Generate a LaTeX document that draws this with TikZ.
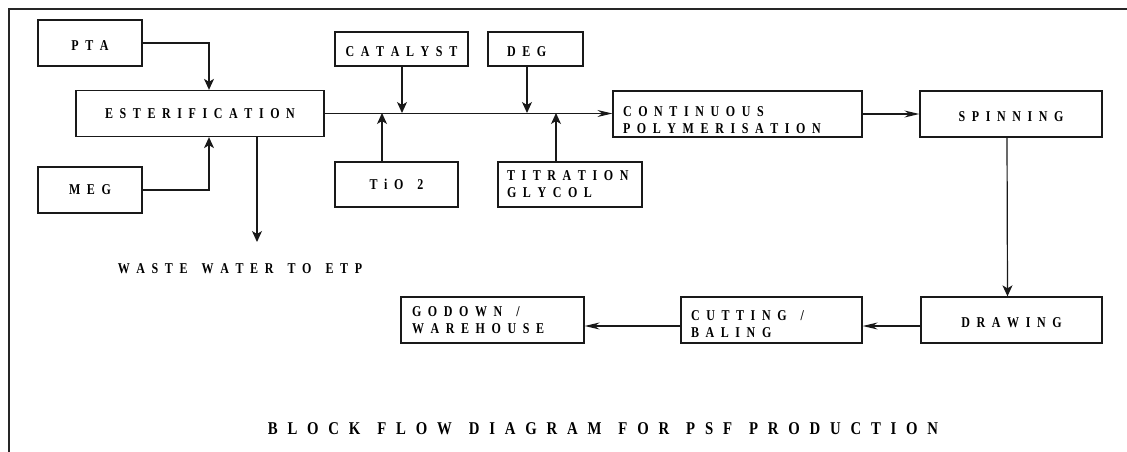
\documentclass[tikz,border=0pt]{standalone}
\usepackage{fontspec}
\setmainfont{Liberation Serif}
% bold, slightly condensed serif for all labels
\newfontfamily\blockfont{Liberation Serif}[UprightFont={* Bold},FakeStretch=0.8]
\newfontfamily\titlefont{Liberation Serif}[UprightFont={* Bold},FakeStretch=0.82]
\usetikzlibrary{arrows.meta}

% hand-made tracking: a kern after every letter, ~ marks a word gap
\newlength\trkd
\newlength\trkw
\def\trk#1{\trkA#1\relax}
\def\trkA#1{\ifx\relax#1\unkern\else\ifx~#1\hspace{\trkw}\else#1\kern\trkd\fi\expandafter\trkA\fi}

\begin{document}
\begin{tikzpicture}[x=1pt,y=-1pt,
  lblfont/.style={font={\blockfont\fontsize{15}{17}\selectfont\setlength\trkd{6.6pt}\setlength\trkw{7.5pt}}},
  blk/.style={draw=black!90, line width=1.3pt, inner sep=0pt, minimum height=46pt, lblfont},
  lbl/.style={inner sep=0pt, lblfont},
  varr/.style={draw=black!90, line width=1.2pt, -{Stealth[length=11pt,width=10pt,inset=3pt]}},
  harr/.style={draw=black!90, line width=1.2pt, -{Stealth[length=15pt,width=7pt,inset=5pt]}}
]
\useasboundingbox (0,0) rectangle (1127,452);

% outer frame (top and left edges only)
\draw[line width=1.8pt, black!85] (1127,9) -- (9,9) -- (9,452);

% feed and esterification blocks
\node[blk, minimum width=104pt] (pta) at (90,43) {\rule{0pt}{16pt}\trk{PTA}};
\node[blk, minimum width=104pt] (meg) at (90,190) {\trk{MEG}};
\node[blk, minimum width=248pt] (ester) at (200,113.5) {\trk{ESTERIFICATION}};

% additive blocks
\node[blk, minimum width=133pt, minimum height=34pt] (cat) at (401.5,49) {\rule{0pt}{16pt}\trk{CATALYST}};
\node[blk, minimum width=95pt, minimum height=34pt, text width=57pt, inner xsep=19pt, align=left] (deg) at (535.5,49) {\rule{0pt}{16pt}\trk{DEG}};
\node[blk, minimum width=123pt, minimum height=45pt] (tio) at (396.5,184.5) {\trk{TiO~2}};
\node[blk, minimum height=45pt, text width=126pt, inner xsep=9pt, align=left] (tit) at (570,184.5) {\trk{TITRATION}\\\trk{GLYCOL}};

% main process line
\node[blk, minimum height=46pt, text width=229pt, inner xsep=10pt, align=left] (cont) at (737.5,114) {\rule{0pt}{22pt}\trk{CONTINUOUS}\\\trk{POLYMERISATION}};
\node[blk, minimum width=182pt] (spin) at (1011,114) {\rule{0pt}{15pt}\trk{SPINNING}};
\node[blk, minimum width=181pt] (draw) at (1011.5,320) {\rule{0pt}{15pt}\trk{DRAWING}};
\node[blk, minimum height=46pt, text width=161pt, inner xsep=10pt, align=left] (cut) at (771.5,320) {\rule{0pt}{18pt}\trk{CUTTING~/}\\\trk{BALING}};
\node[blk, minimum height=46pt, text width=161pt, inner xsep=11pt, align=left] (god) at (492.5,320) {\trk{GODOWN~/}\\\trk{WAREHOUSE}};

% effluent label
\node[lbl] (waste) at (240,269) {\trk{WASTE~WATER~TO~ETP}};
\coordinate (wasteend) at (257,242);

% title
\node[inner sep=0pt, font={\titlefont\fontsize{18}{20}\selectfont\setlength\trkd{9.8pt}\setlength\trkw{7.2pt}}] (title) at (603,429)
  {\trk{BLOCK~FLOW~DIAGRAM~FOR~PSF~PRODUCTION}};

% junction points on the transfer line
\coordinate (jpta) at (209,113);
\coordinate (jtio) at (382,113);
\coordinate (jcat) at (402,113);
\coordinate (jdeg) at (527,113);
\coordinate (jtit) at (556,113);

% feeds into esterification
\draw[varr] (pta.east) -| (ester.north -| jpta);
\draw[varr] (meg.east) -| (ester.south -| jpta);
\draw[varr] (ester.south -| wasteend) -- (wasteend);

% transfer line to polymerisation with additive injections
\draw[harr] (ester.east) -- (ester.east -| cont.west);
\draw[varr] (cat.south -| jcat) -- (jcat);
\draw[varr] (deg.south -| jdeg) -- (jdeg);
\draw[varr] (tio.north -| jtio) -- (jtio);
\draw[varr] (tit.north -| jtit) -- (jtit);

% downstream processing
\draw[harr] (cont.east) -- (spin.west);
\draw[varr] ([xshift=-4pt]spin.south) -- ([xshift=-4pt]draw.north);
\draw[harr] ([yshift=-6pt]draw.west) -- ([yshift=-6pt]cut.east);
\draw[harr] ([yshift=-6pt]cut.west) -- ([yshift=-6pt]god.east);
\end{tikzpicture}
\end{document}
